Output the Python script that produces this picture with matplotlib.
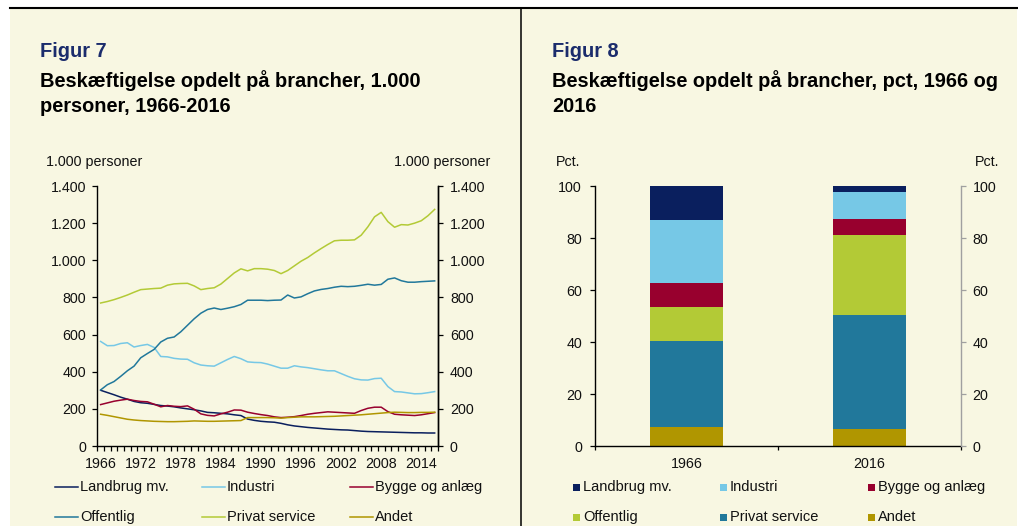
import matplotlib.pyplot as plt
from matplotlib.lines import Line2D
from matplotlib.patches import Rectangle
from matplotlib.ticker import FuncFormatter, FixedLocator

plt.rcParams["font.family"] = ["Liberation Sans", "DejaVu Sans"]

W, H = 1018, 526

# ---- Figur 7: employment by sector, 1.000 persons ----
YEARS = list(range(1966, 2017))

LANDBRUG = [
    300, 288, 276, 263, 252, 240, 233, 230, 224, 218,
    215, 211, 205, 200, 195, 189, 181, 179, 176, 173,
    168, 164, 145, 138, 133, 130, 128, 122, 114, 108,
    104, 100, 97, 94, 91, 89, 87, 86, 83, 80,
    78, 77, 76, 75, 74, 73, 72, 71, 71, 70,
    70,
]

INDUSTRI = [
    563, 540, 541, 552, 556, 533, 541, 547, 531, 482,
    480, 472, 468, 467, 448, 436, 432, 430, 448, 466,
    482, 470, 453, 450, 449, 441, 430, 419, 419, 432,
    426, 422, 416, 410, 405, 405, 390, 375, 362, 356,
    355, 363, 365, 320, 293, 291, 286, 281, 282, 287,
    293,
]

BYGGE = [
    223, 232, 241, 247, 252, 245, 240, 238, 225, 211,
    218, 214, 212, 216, 198, 173, 165, 162, 173, 182,
    194, 193, 182, 175, 169, 164, 157, 153, 155, 158,
    164, 171, 176, 180, 184, 182, 180, 178, 176, 191,
    203, 209, 209, 185, 171, 168, 166, 164, 168, 174,
    180,
]

OFFENTLIG = [
    302, 330, 347, 375, 405, 430, 475, 498, 520, 560,
    580, 587, 615, 650, 685, 715, 735, 743, 735, 742,
    750, 762, 785, 785, 785, 783, 785, 786, 813, 797,
    803, 820, 835, 843, 848, 855, 860, 858, 860, 865,
    871, 866, 870, 898, 905, 890, 882, 882, 885, 887,
    889,
]

PRIVAT = [
    770, 778, 788, 800, 813, 828, 842, 845, 848, 850,
    866, 873, 875, 876, 862, 842, 848, 852, 872, 902,
    932, 954, 943, 955, 955, 952, 945, 928, 945, 970,
    995, 1015, 1040, 1063, 1085, 1105, 1108, 1108, 1110, 1135,
    1180, 1234, 1258, 1208, 1178, 1192, 1190, 1200, 1213, 1240,
    1274,
]

ANDET = [
    171, 165, 158, 151, 144, 140, 137, 135, 133, 132,
    131, 131, 132, 133, 135, 134, 133, 133, 134, 135,
    136, 137, 153, 153, 153, 153, 152, 150, 153, 155,
    157, 157, 157, 158, 159, 160, 162, 164, 166, 168,
    171, 174, 177, 180, 182, 181, 180, 180, 181, 181,
    182,
]

YEAR_LABELS = [1966, 1972, 1978, 1984, 1990, 1996, 2002, 2008, 2014]
LEFT_TICKS = [0, 200, 400, 600, 800, 1000, 1200, 1400]

# ---- Figur 8: shares in pct, 1966 and 2016 ----
BAR_YEARS = ["1966", "2016"]
PCT_ANDET = [7.2, 6.4]
PCT_PRIVAT = [33.0, 43.9]
PCT_OFFENTLIG = [13.2, 30.8]
PCT_BYGGE = [9.4, 6.2]
PCT_INDUSTRI = [24.1, 10.3]
PCT_LANDBRUG = [13.1, 2.4]
PCT_TICKS = [0, 20, 40, 60, 80, 100]

NAVY = "#0a1f5e"
LIGHTBLUE = "#76c8e6"
RED = "#98002e"
TEAL = "#21789b"
GREEN = "#b3ca36"
GOLD = "#b09600"

BG = "#f8f7e2"
TEXT = "#111111"
TITLE_BLUE = "#1b2c6c"


def fx(px):
    return px / W


def fy(py):
    return 1 - py / H


def dot_format(v, _pos):
    return f"{v:,.0f}".replace(",", ".")


fig = plt.figure(figsize=(W / 100, H / 100), dpi=100, facecolor="white")

# cream background panel and frame lines
fig.patches.append(
    Rectangle(
        (fx(10), 0), fx(1017) - fx(10), fy(8),
        transform=fig.transFigure, facecolor=BG, edgecolor="none", zorder=-5,
    )
)
fig.lines.append(
    Line2D([fx(10), fx(1017)], [fy(8), fy(8)],
           transform=fig.transFigure, color="black", lw=1.5)
)
fig.lines.append(
    Line2D([fx(520.5), fx(520.5)], [fy(8), 0],
           transform=fig.transFigure, color="black", lw=1.1)
)

# titles
for x0, fig_no, line1, line2 in [
    (40, "Figur 7", "Beskæftigelse opdelt på brancher, 1.000",
     "personer, 1966-2016"),
    (552, "Figur 8", "Beskæftigelse opdelt på brancher, pct, 1966 og",
     "2016"),
]:
    fig.text(fx(x0), fy(57), fig_no, color=TITLE_BLUE,
             fontsize=14.4, fontweight="bold", va="baseline")
    fig.text(fx(x0), fy(87), line1, color="black",
             fontsize=14.4, fontweight="bold", va="baseline")
    fig.text(fx(x0), fy(111.5), line2, color="black",
             fontsize=14.4, fontweight="bold", va="baseline")

fig.text(fx(46), fy(166), "1.000 personer", fontsize=10.3,
         color=TEXT, va="baseline")
fig.text(fx(490), fy(166), "1.000 personer", fontsize=10.3,
         color=TEXT, va="baseline", ha="right")
fig.text(fx(556), fy(166), "Pct.", fontsize=10.3, color=TEXT, va="baseline")
fig.text(fx(999), fy(166), "Pct.", fontsize=10.3, color=TEXT,
         va="baseline", ha="right")

# ---------------- Figur 7 ----------------
ax1 = fig.add_axes([fx(97.3), fy(446), fx(438) - fx(97.3), fy(186) - fy(446)])
ax1.set_facecolor("none")

series7 = [
    ("Landbrug mv.", LANDBRUG, NAVY),
    ("Industri", INDUSTRI, LIGHTBLUE),
    ("Bygge og anlæg", BYGGE, RED),
    ("Offentlig", OFFENTLIG, TEAL),
    ("Privat service", PRIVAT, GREEN),
    ("Andet", ANDET, GOLD),
]
for name, vals, col in series7:
    ax1.plot(YEARS, vals, color=col, lw=1.1, label=name)

ax1.set_xlim(YEARS[0] - 0.5, YEARS[-1] + 0.5)
ax1.set_ylim(0, 1400)
ax1.set_yticks(LEFT_TICKS)
ax1.yaxis.set_major_formatter(FuncFormatter(dot_format))
ax1.xaxis.set_major_locator(FixedLocator(YEAR_LABELS))
ax1.xaxis.set_minor_locator(FixedLocator([y - 0.5 for y in YEARS] + [YEARS[-1] + 0.5]))
ax1.tick_params(axis="x", which="major", length=0, pad=8, labelsize=10.3,
                labelcolor=TEXT)
ax1.tick_params(axis="x", which="minor", length=3.6, width=0.9,
                direction="out", color="black")
ax1.tick_params(axis="y", length=3.6, width=0.9, direction="out", pad=4.5,
                labelsize=10.3, labelcolor=TEXT)
ax1.spines["top"].set_visible(False)
for s in ("left", "right", "bottom"):
    ax1.spines[s].set_linewidth(1.0)

ax1r = ax1.twinx()
ax1r.set_ylim(0, 1400)
ax1r.set_yticks(LEFT_TICKS)
ax1r.yaxis.set_major_formatter(FuncFormatter(dot_format))
ax1r.tick_params(axis="y", length=3.6, width=0.9, direction="out", pad=5,
                 labelsize=10.3, labelcolor=TEXT)
for s in ("top", "left", "bottom"):
    ax1r.spines[s].set_visible(False)
ax1r.spines["right"].set_linewidth(1.0)

# ---------------- Figur 8 ----------------
ax2 = fig.add_axes([fx(595), fy(446), fx(960.7) - fx(595), fy(186) - fy(446)])
ax2.set_facecolor("none")

series8 = [
    ("Andet", PCT_ANDET, GOLD),
    ("Privat service", PCT_PRIVAT, TEAL),
    ("Offentlig", PCT_OFFENTLIG, GREEN),
    ("Bygge og anlæg", PCT_BYGGE, RED),
    ("Industri", PCT_INDUSTRI, LIGHTBLUE),
    ("Landbrug mv.", PCT_LANDBRUG, NAVY),
]
xpos = list(range(len(BAR_YEARS)))
bottom = [0.0] * len(BAR_YEARS)
for name, vals, col in series8:
    ax2.bar(xpos, vals, width=0.4, bottom=bottom, color=col,
            edgecolor="none", label=name)
    bottom = [b + v for b, v in zip(bottom, vals)]

ax2.set_xlim(-0.5, len(BAR_YEARS) - 0.5)
ax2.set_ylim(0, 100)
ax2.set_yticks(PCT_TICKS)
ax2.xaxis.set_major_locator(FixedLocator([-0.5, 0.5, 1.5]))
ax2.xaxis.set_major_formatter(FuncFormatter(lambda v, p: ""))
ax2.xaxis.set_minor_locator(FixedLocator(xpos))
ax2.set_xticklabels(BAR_YEARS, minor=True)
ax2.tick_params(axis="x", which="major", length=3.2, width=0.9,
                direction="out")
ax2.tick_params(axis="x", which="minor", length=0, pad=8, labelsize=10.3,
                labelcolor=TEXT)
ax2.tick_params(axis="y", length=3.6, width=0.9, direction="out", pad=5.8,
                labelsize=10.3, labelcolor=TEXT)
for s in ("top", "right"):
    ax2.spines[s].set_visible(False)
for s in ("left", "bottom"):
    ax2.spines[s].set_linewidth(1.0)

ax2r = ax2.twinx()
ax2r.set_ylim(0, 100)
ax2r.set_yticks(PCT_TICKS)
ax2r.tick_params(axis="y", length=3.6, width=0.9, direction="out", pad=5,
                 color="#a0a0a0", labelsize=10.3, labelcolor=TEXT)
for s in ("top", "left", "bottom"):
    ax2r.spines[s].set_visible(False)
ax2r.spines["right"].set_color("#a0a0a0")
ax2r.spines["right"].set_linewidth(1.0)

# ---------------- legends (drawn by hand to match layout) ----------------
legend_rows = [487, 517]
legend7 = [
    ("Landbrug mv.", NAVY), ("Industri", LIGHTBLUE), ("Bygge og anlæg", RED),
    ("Offentlig", TEAL), ("Privat service", GREEN), ("Andet", GOLD),
]
cols7 = [55, 202, 350]
for i, (name, col) in enumerate(legend7):
    x0 = cols7[i % 3]
    y0 = legend_rows[i // 3]
    fig.lines.append(
        Line2D([fx(x0), fx(x0 + 23)], [fy(y0), fy(y0)],
               transform=fig.transFigure, color=col, lw=1.1)
    )
    fig.text(fx(x0 + 25), fy(y0), name, fontsize=10.5, color=TEXT,
             va="center")

legend8 = [
    ("Landbrug mv.", NAVY), ("Industri", LIGHTBLUE), ("Bygge og anlæg", RED),
    ("Offentlig", GREEN), ("Privat service", TEAL), ("Andet", GOLD),
]
cols8 = [573, 720, 868]
for i, (name, col) in enumerate(legend8):
    x0 = cols8[i % 3]
    y0 = legend_rows[i // 3]
    fig.patches.append(
        Rectangle((fx(x0), fy(y0 + 3.5)), fx(7), 7 / H,
                  transform=fig.transFigure, facecolor=col, edgecolor="none")
    )
    fig.text(fx(x0 + 10), fy(y0), name, fontsize=10.5, color=TEXT,
             va="center")

fig.savefig("out.png", dpi=100, facecolor="white")
